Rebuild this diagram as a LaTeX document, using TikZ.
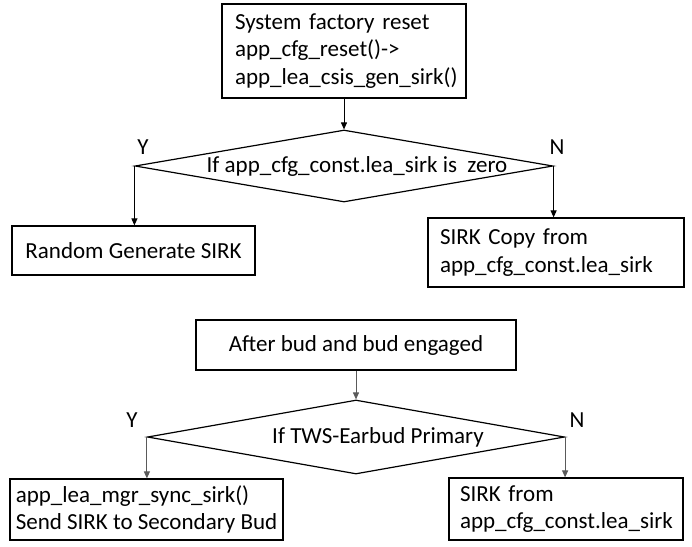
\documentclass[tikz,border=0pt]{standalone}
\usepackage{fontspec}
\setmainfont{Carlito}
\usetikzlibrary{arrows.meta,positioning,shapes.geometric}
\definecolor{ink}{RGB}{0,0,0}
\definecolor{slate}{RGB}{90,90,90}
\tikzset{
  >={Triangle[length=7pt,width=6pt]},
  box/.style={draw=ink,line width=1.2pt,inner sep=0pt,align=center,
    font=\fontsize{23}{27.5}\selectfont},
  lbox/.style={box,align=left,inner xsep=12pt},
  decide/.style={diamond,draw=ink,line width=1.2pt,inner sep=0pt},
  flow/.style={->,line width=1pt,draw=#1},
  flow/.default=ink,
  tag/.style={font=\fontsize{23}{27}\selectfont,inner sep=0pt},
}
\begin{document}
\begin{tikzpicture}[x=1pt,y=-1pt]
    \useasboundingbox (0,0) rectangle (692,546);
    % factory reset part
    \node[lbox,text width=218pt,minimum height=94pt,inner xsep=13pt] (reset) at (344,51)
      {System factory reset\\app\_cfg\_reset()->\\app\_lea\_csis\_gen\_sirk()};
    \node[decide,minimum width=418pt,minimum height=72pt] (dec1) at (344,166) {};
    \node[tag] (dec1txt) at (357,166) {If app\_cfg\_const.lea\_sirk is\ \ zero};
    \node[tag] (y1) at (143,147) {Y};
    \node[tag] (n1) at (557,147) {N};
    \node[box,minimum width=243pt,minimum height=49pt] (rand) at (133.5,250.5) {Random Generate SIRK};
    \node[lbox,text width=232pt,minimum height=69pt] (copy) at (556,252.5)
      {SIRK Copy from\\app\_cfg\_const.lea\_sirk};
    \draw[flow] (reset) -- (dec1.north);
    \draw[flow] (dec1.west) -- (dec1.west |- rand.north);
    \draw[flow] (dec1.east) -- (dec1.east |- copy.north);
    % engaged part
    \node[box,minimum width=320pt,minimum height=50pt] (engaged) at (356,345) {After bud and bud engaged};
    \node[decide,minimum width=417pt,minimum height=74pt] (dec2) at (356,437) {};
    \node[tag] (dec2txt) at (378,437) {If TWS-Earbud Primary};
    \node[tag] (y2) at (132,420) {Y};
    \node[tag] (n2) at (577,420) {N};
    \node[lbox,minimum width=273pt,minimum height=61pt,inner xsep=0pt] (sync) at (146.5,509.5)
      {app\_lea\_mgr\_sync\_sirk()\\Send SIRK to Secondary Bud};
    \node[lbox,text width=212pt,minimum height=62pt,inner xsep=11pt] (from) at (566,509)
      {SIRK from\\app\_cfg\_const.lea\_sirk};
    \draw[flow=slate] (engaged) -- (dec2.north);
    \draw[flow=slate] (dec2.west) -- (dec2.west |- sync.north);
    \draw[flow=slate] (dec2.east) -- (dec2.east |- from.north);
\end{tikzpicture}
\end{document}
